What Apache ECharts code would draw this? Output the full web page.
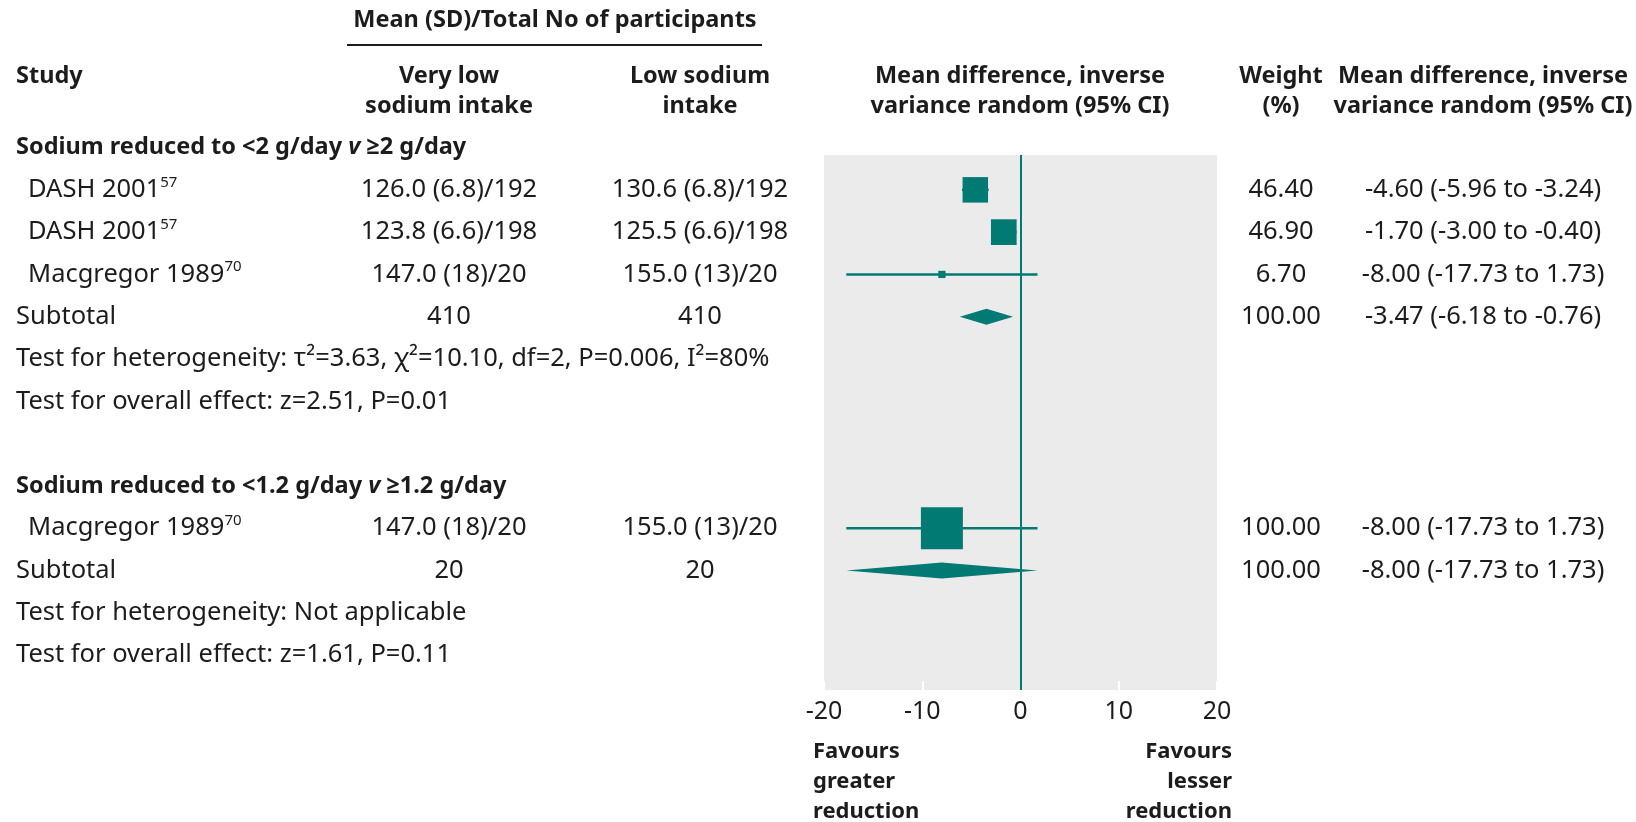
<!DOCTYPE html>
<html>
<head>
<meta charset="utf-8">
<script src="https://cdn.jsdelivr.net/npm/echarts@6/dist/echarts.min.js"></script>
<style>
  html, body { margin: 0; padding: 0; background: #ffffff; }
  #chart { width: 1636px; height: 822px; }
</style>
</head>
<body>
<div id="chart"></div>
<script>
// ---- Individual trials ----
const studyNames   = ['DASH 2001', 'DASH 2001', 'Macgregor 1989', 'Macgregor 1989'];
const studyRefs    = ['57', '57', '70', '70'];
const studyGroup   = [0, 0, 0, 1];
const veryLowArm   = ['126.0 (6.8)/192', '123.8 (6.6)/198', '147.0 (18)/20', '147.0 (18)/20'];
const lowArm       = ['130.6 (6.8)/192', '125.5 (6.6)/198', '155.0 (13)/20', '155.0 (13)/20'];
const studyWeight  = [46.40, 46.90, 6.70, 100.00];
const studyMD      = [-4.60, -1.70, -8.00, -8.00];
const studyLow     = [-5.96, -3.00, -17.73, -17.73];
const studyHigh    = [-3.24, -0.40, 1.73, 1.73];

// ---- Subgroups ----
const groupTitles        = ['Sodium reduced to <2 g/day v ≥2 g/day', 'Sodium reduced to <1.2 g/day v ≥1.2 g/day'];
const groupTotalVeryLow  = [410, 20];
const groupTotalLow      = [410, 20];
const groupWeight        = [100.00, 100.00];
const groupMD            = [-3.47, -8.00];
const groupLow           = [-6.18, -17.73];
const groupHigh          = [-0.76, 1.73];
const groupHeterogeneity = ['τ²=3.63, χ²=10.10, df=2, P=0.006, I²=80%', 'Not applicable'];
const groupOverall       = ['z=2.51, P=0.01', 'z=1.61, P=0.11'];

// ---- Axis ----
const xTicks = [-20, -10, 0, 10, 20];

// ---- Column headings ----
const headSpan     = 'Mean (SD)/Total No of participants';
const headStudy    = 'Study';
const headVeryLow  = 'Very low\nsodium intake';
const headLow      = 'Low sodium\nintake';
const headPlot     = 'Mean difference, inverse\nvariance random (95% CI)';
const headWeight   = 'Weight\n(%)';
const headMD       = 'Mean difference, inverse\nvariance random (95% CI)';
const favoursLeft  = 'Favours\ngreater\nreduction';
const favoursRight = 'Favours\nlesser\nreduction';

// ---- Styling ----
const TEAL   = '#007a73';
const GREY   = '#ebebeb';
const INK    = '#1c1c1c';
const FAMILY = '"Noto Sans", "Open Sans", sans-serif';
const BODY_SIZE = 25.5;
const HEAD_SIZE = 23.5;
const COL = { left: 16, indent: 28, veryLow: 449, low: 700, weight: 1281, md: 1483, plot: 1020 };

// Build the table rows: heading, trials, subtotal, two test lines, gap between groups
const rows = [];
groupTitles.forEach((title, g) => {
  if (g > 0) rows.push({ kind: 'blank' });
  rows.push({ kind: 'title', g });
  studyNames.forEach((n, i) => { if (studyGroup[i] === g) rows.push({ kind: 'study', i }); });
  rows.push({ kind: 'subtotal', g });
  rows.push({ kind: 'het', g });
  rows.push({ kind: 'overall', g });
});
const rowOf = (kind, key) => rows.findIndex(r => r.kind === kind && (r.i === key || r.g === key));

const fmt = v => v.toFixed(2);
const ciText = (m, lo, hi) => `${fmt(m)} (${fmt(lo)} to ${fmt(hi)})`;
const boxSize = w => 42 * Math.pow(w / 100, 0.65);

function plain(x, y, str, align, weight) {
  return {
    type: 'text', x, y,
    style: {
      text: str, fill: INK, align, verticalAlign: 'middle',
      fontFamily: FAMILY, fontSize: weight === 'bold' ? HEAD_SIZE : BODY_SIZE,
      fontWeight: weight || 'normal'
    }
  };
}

function renderTableRow(params, api) {
  const k = api.value(1);
  const row = rows[k];
  const y = api.coord([0, k])[1];
  const kids = [];
  if (row.kind === 'title') {
    const parts = groupTitles[row.g].split(' v ');
    kids.push({
      type: 'text', x: COL.left, y,
      style: {
        text: `{b|${parts[0]} }{i|v}{b| ${parts[1]}}`,
        align: 'left', verticalAlign: 'middle',
        rich: {
          b: { fontFamily: FAMILY, fontSize: HEAD_SIZE, fontWeight: 'bold', fill: INK },
          i: { fontFamily: FAMILY, fontSize: HEAD_SIZE, fontWeight: 'bold', fontStyle: 'italic', fill: INK }
        }
      }
    });
  } else if (row.kind === 'study') {
    const i = row.i;
    kids.push({
      type: 'text', x: COL.indent, y,
      style: {
        text: `{n|${studyNames[i]}}{s|${studyRefs[i]}}`,
        align: 'left', verticalAlign: 'middle',
        rich: {
          n: { fontFamily: FAMILY, fontSize: BODY_SIZE, lineHeight: 30, fill: INK },
          s: { fontFamily: FAMILY, fontSize: 15, verticalAlign: 'top', fill: INK }
        }
      }
    });
    kids.push(plain(COL.veryLow, y, veryLowArm[i], 'center'));
    kids.push(plain(COL.low, y, lowArm[i], 'center'));
    kids.push(plain(COL.weight, y, fmt(studyWeight[i]), 'center'));
    kids.push(plain(COL.md, y, ciText(studyMD[i], studyLow[i], studyHigh[i]), 'center'));
  } else if (row.kind === 'subtotal') {
    const g = row.g;
    kids.push(plain(COL.left, y, 'Subtotal', 'left'));
    kids.push(plain(COL.veryLow, y, String(groupTotalVeryLow[g]), 'center'));
    kids.push(plain(COL.low, y, String(groupTotalLow[g]), 'center'));
    kids.push(plain(COL.weight, y, fmt(groupWeight[g]), 'center'));
    kids.push(plain(COL.md, y, ciText(groupMD[g], groupLow[g], groupHigh[g]), 'center'));
  } else if (row.kind === 'het') {
    kids.push(plain(COL.left, y, 'Test for heterogeneity: ' + groupHeterogeneity[row.g], 'left'));
  } else if (row.kind === 'overall') {
    kids.push(plain(COL.left, y, 'Test for overall effect: ' + groupOverall[row.g], 'left'));
  }
  return { type: 'group', children: kids };
}

function heading(x, y, text, align, size) {
  return {
    type: 'text', x, y,
    style: {
      text, fontFamily: FAMILY, fontSize: size || HEAD_SIZE, fontWeight: 'bold',
      lineHeight: 30, fill: INK, align, verticalAlign: 'middle'
    }
  };
}

const chart = echarts.init(document.getElementById('chart'), null, { renderer: 'canvas' });

const studyIdx = studyNames.map((_, i) => i);
const groupIdx = groupTitles.map((_, g) => g);

chart.setOption({
  animation: false,
  backgroundColor: '#ffffff',
  grid: {
    left: 824, width: 393, top: 155, height: 535,
    show: true, backgroundColor: GREY, borderWidth: 0
  },
  xAxis: {
    type: 'value',
    min: xTicks[0], max: xTicks[xTicks.length - 1], interval: xTicks[1] - xTicks[0],
    axisLine: { show: false },
    axisTick: { show: true, inside: true, length: 9, lineStyle: { color: '#ffffff', width: 2 } },
    splitLine: { show: false },
    axisLabel: { fontFamily: FAMILY, fontSize: 25, color: INK, margin: 9, showMinLabel: true, showMaxLabel: true }
  },
  yAxis: {
    type: 'value', inverse: true, min: 0.176, max: 12.826, show: false
  },
  graphic: [
    heading(555, 20, headSpan, 'center'),
    { type: 'line', shape: { x1: 347, y1: 45, x2: 762, y2: 45 }, style: { stroke: INK, lineWidth: 2 } },
    heading(COL.left, 76, headStudy, 'left'),
    heading(COL.veryLow, 91, headVeryLow, 'center'),
    heading(COL.low, 91, headLow, 'center'),
    heading(COL.plot, 91, headPlot, 'center'),
    heading(COL.weight, 91, headWeight, 'center'),
    heading(COL.md, 91, headMD, 'center'),
    heading(813, 782, favoursLeft, 'left', 22),
    heading(1232, 782, favoursRight, 'right', 22)
  ],
  series: [
    {
      // table text, one item per row
      name: 'table', type: 'custom', silent: true, clip: false, z: 5,
      data: rows.map((_, k) => [0, k]),
      encode: { x: 0, y: 1 },
      renderItem: renderTableRow
    },
    {
      // confidence intervals of individual trials
      name: 'ci', type: 'custom', silent: true, z: 3,
      data: studyIdx.map(i => [studyLow[i], studyHigh[i], rowOf('study', i)]),
      encode: { x: [0, 1], y: 2 },
      renderItem(params, api) {
        const a = api.coord([api.value(0), api.value(2)]);
        const b = api.coord([api.value(1), api.value(2)]);
        return { type: 'line', shape: { x1: a[0], y1: a[1], x2: b[0], y2: b[1] }, style: { stroke: TEAL, lineWidth: 2.5 } };
      },
      markLine: {
        silent: true, symbol: ['none', 'none'], label: { show: false },
        lineStyle: { color: TEAL, width: 2, type: 'solid' },
        data: [{ xAxis: 0 }]
      }
    },
    {
      // weighted point estimates
      name: 'box', type: 'custom', silent: true, z: 4,
      data: studyIdx.map(i => [studyMD[i], rowOf('study', i), studyWeight[i]]),
      encode: { x: 0, y: 1 },
      renderItem(params, api) {
        const c = api.coord([api.value(0), api.value(1)]);
        const s = boxSize(api.value(2));
        return { type: 'rect', shape: { x: c[0] - s / 2, y: c[1] - s / 2, width: s, height: s }, style: { fill: TEAL } };
      }
    },
    {
      // pooled subgroup estimates
      name: 'diamond', type: 'custom', silent: true, z: 4,
      data: groupIdx.map(g => [groupLow[g], groupMD[g], groupHigh[g], rowOf('subtotal', g)]),
      encode: { x: [0, 1, 2], y: 3 },
      renderItem(params, api) {
        const r = api.value(3);
        const l = api.coord([api.value(0), r]);
        const m = api.coord([api.value(1), r]);
        const h = api.coord([api.value(2), r]);
        const half = 8;
        return {
          type: 'polygon',
          shape: { points: [[l[0], l[1]], [m[0], m[1] - half], [h[0], h[1]], [m[0], m[1] + half]] },
          style: { fill: TEAL }
        };
      }
    }
  ]
});
</script>
</body>
</html>
